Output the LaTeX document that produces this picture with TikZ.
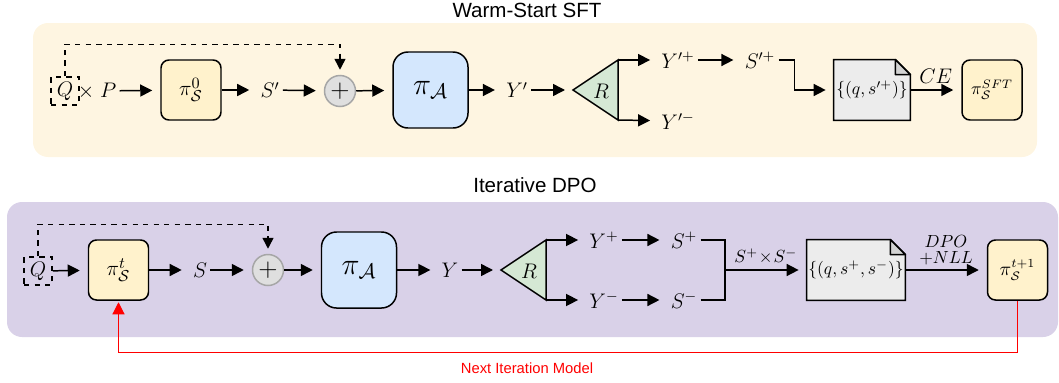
\documentclass[tikz,border=0pt]{standalone}
\usepackage{fontspec}
\newfontfamily\headfont{Liberation Sans}
\usetikzlibrary{arrows.meta,backgrounds}
\definecolor{warmbg}{HTML}{FEF5E1}
\definecolor{dpobg}{HTML}{D9D1E8}
\definecolor{polfill}{HTML}{FFF2CC}
\definecolor{agfill}{HTML}{D4E7FD}
\definecolor{rwfill}{HTML}{D5E8D4}
\tikzset{
  lbl/.style    = {inner sep=0.6mm},
  policy/.style = {draw, line width=0.85pt, rounded corners=1.6mm, fill=polfill,
                   minimum size=12mm, inner sep=0},
  agent/.style  = {draw, line width=0.85pt, rounded corners=3mm, fill=agfill,
                   minimum width=15mm, minimum height=15.2mm, font=\LARGE},
  sumnode/.style = {circle, draw=gray!70, line width=0.85pt, fill=gray!25,
                    minimum size=6.2mm, inner sep=0, font=\Large},
  qbox/.style   = {draw, dashed, line width=0.85pt, minimum size=5.6mm, inner sep=0},
  doc/.style    = {minimum height=12mm, inner sep=0, font=\fontsize{10}{12}\selectfont},
  docfill/.style  = {draw, line width=0.85pt, fill=gray!15},
  foldfill/.style = {draw, line width=0.85pt, fill=gray!35, line join=round},
  reward/.style = {draw, line width=0.85pt, fill=rwfill},
  arr/.style    = {-{Triangle[length=2.4mm,width=2.4mm]}, line width=0.85pt, shorten >=1.6mm},
  plain/.style  = {line width=0.85pt},
  dasharr/.style = {dashed, line width=0.85pt, -{Triangle[length=2.2mm,width=2.2mm]}, shorten >=1mm},
  fbarr/.style  = {red, line width=0.6pt, -{Triangle[length=2.4mm,width=2.4mm]}, shorten >=0.3mm},
  title/.style  = {font=\headfont\fontsize{11.7}{14}\selectfont}
}

\begin{document}
\begin{tikzpicture}[x=0.2mm, y=-0.2mm, font=\fontsize{11.5}{13}\selectfont]
\useasboundingbox (0,0) rectangle (1059,383);

% ---- warm-start SFT row
\node[title] (title1) at (527,10) {Warm-Start SFT};
\node[qbox] (q1) at (65,91) {$Q$};
\node[lbl] (qp) at (97,91) {$\times\;P$};
\node[policy, font=\fontsize{13}{15}\selectfont] (p0) at (191,90) {$\pi_{\mathcal{S}}^{0}$};
\node[lbl] (sp1) at (270,90) {$S'$};
\node[sumnode] (sum1) at (340,91) {$+$};
\node[agent] (ag1) at (430.5,90) {$\pi_{\mathcal{A}}$};
\node[lbl] (yo1) at (517,90) {$Y'$};
\coordinate (t1a) at (573,90);
\coordinate (t1b) at (618,60);
\coordinate (t1c) at (618,120);
\draw[reward] (t1a) -- (t1b) -- (t1c) -- cycle;
\node (r1) at (601,91) {$R$};
\node[lbl] (ypp) at (678,60) {$Y'^{+}$};
\node[lbl] (ypm) at (678,121) {$Y'^{-}$};
\node[lbl] (spp) at (760,60) {$S'^{+}$};
\node[doc, minimum width=15.2mm] (d1) at (872,90) {$\{(q,s'^{+})\}$};
\node[policy, font=\fontsize{10}{12}\selectfont] (pf1) at (992,90) {$\pi_{\mathcal{S}}^{SFT}$};

\draw[arr] (qp) -- (p0);
\draw[arr] (p0) -- (sp1);
\draw[arr] (sp1) -- (sum1);
\draw[arr] (sum1) -- (ag1);
\draw[arr] (ag1) -- (yo1);
\draw[arr] (yo1) -- (t1a);
\draw[arr] (t1b) -- (ypp);
\draw[arr] (t1c) -- (ypm);
\draw[arr] (ypp) -- (spp);
\draw[arr] (spp.east) -- ++(16,0) |- (d1.west);
\draw[arr] (d1) -- node[lbl, above=0.5mm] {$CE$} (pf1);
\draw[dasharr] (q1.north) -- ++(0,-32) -| (sum1.north);

% ---- iterative DPO row
\node[title] (title2) at (535,185) {Iterative DPO};
\node[qbox] (q2) at (38,271) {$Q$};
\node[policy, font=\fontsize{13}{15}\selectfont] (p2) at (118.5,270) {$\pi_{\mathcal{S}}^{t}$};
\node[lbl] (s2) at (200,270) {$S$};
\node[sumnode] (sum2) at (268,270) {$+$};
\node[agent] (ag2) at (359,270) {$\pi_{\mathcal{A}}$};
\node[lbl] (y2) at (450,270) {$Y$};
\coordinate (t2a) at (501,270);
\coordinate (t2b) at (546,240);
\coordinate (t2c) at (546,300);
\draw[reward] (t2a) -- (t2b) -- (t2c) -- cycle;
\node (r2) at (529,271) {$R$};
\node[lbl] (yplus) at (604,240) {$Y^{+}$};
\node[lbl] (yminus) at (604,300) {$Y^{-}$};
\node[lbl] (splus) at (684,240) {$S^{+}$};
\node[lbl] (sminus) at (684,300) {$S^{-}$};
\coordinate (brk) at (725,270);
\node[doc, minimum width=19.6mm] (d2) at (856,270) {$\{(q,s^{+},s^{-})\}$};
\node[policy, font=\fontsize{10.5}{12}\selectfont] (p3) at (1017.5,270) {$\pi_{\mathcal{S}}^{t+1}$};

\draw[arr] (q2) -- (p2);
\draw[arr] (p2) -- (s2);
\draw[arr] (s2) -- (sum2);
\draw[arr] (sum2) -- (ag2);
\draw[arr] (ag2) -- (y2);
\draw[arr] (y2) -- (t2a);
\draw[arr] (t2b) -- (yplus);
\draw[arr] (t2c) -- (yminus);
\draw[arr] (yplus) -- (splus);
\draw[arr] (yminus) -- (sminus);
\draw[plain] (splus.east) -| (brk);
\draw[plain] (sminus.east) -| (brk);
\draw[arr] (brk) -- node[lbl, above=0.4mm, font=\fontsize{10}{12}\selectfont] {$S^{+}\!\times\! S^{-}$} (d2);
\draw[arr] (d2) -- node[lbl, above=0.3mm, align=center, font=\fontsize{10}{10}\selectfont]
  {$DPO$\\[-1pt]$+NLL$} (p3);
\draw[dasharr] (q2.north) -- ++(0,-32) -| (sum2.north);

% feedback to the next round
\draw[fbarr] (p3.south) -- ++(0,52) -| (p2.south);
\node[text=red, font=\headfont\fontsize{8.4}{10}\selectfont] (nextlbl) at (527,368) {Next Iteration Model};

% panels and data files behind everything
\begin{scope}[on background layer]
  \fill[warmbg, rounded corners=3mm] (33,23) rectangle (1037,157);
  \fill[dpobg, rounded corners=3mm] (7,202) rectangle (1058,337);
  \foreach \d in {d1,d2}{
    \filldraw[docfill] (\d.south west) -- (\d.north west) -- ([xshift=-3mm]\d.north east)
      -- ([yshift=-3mm]\d.north east) -- (\d.south east) -- cycle;
    \filldraw[foldfill] ([xshift=-3mm]\d.north east) -- ([xshift=-3mm,yshift=-3mm]\d.north east)
      -- ([yshift=-3mm]\d.north east) -- cycle;
  }
\end{scope}
\end{tikzpicture}
\end{document}
